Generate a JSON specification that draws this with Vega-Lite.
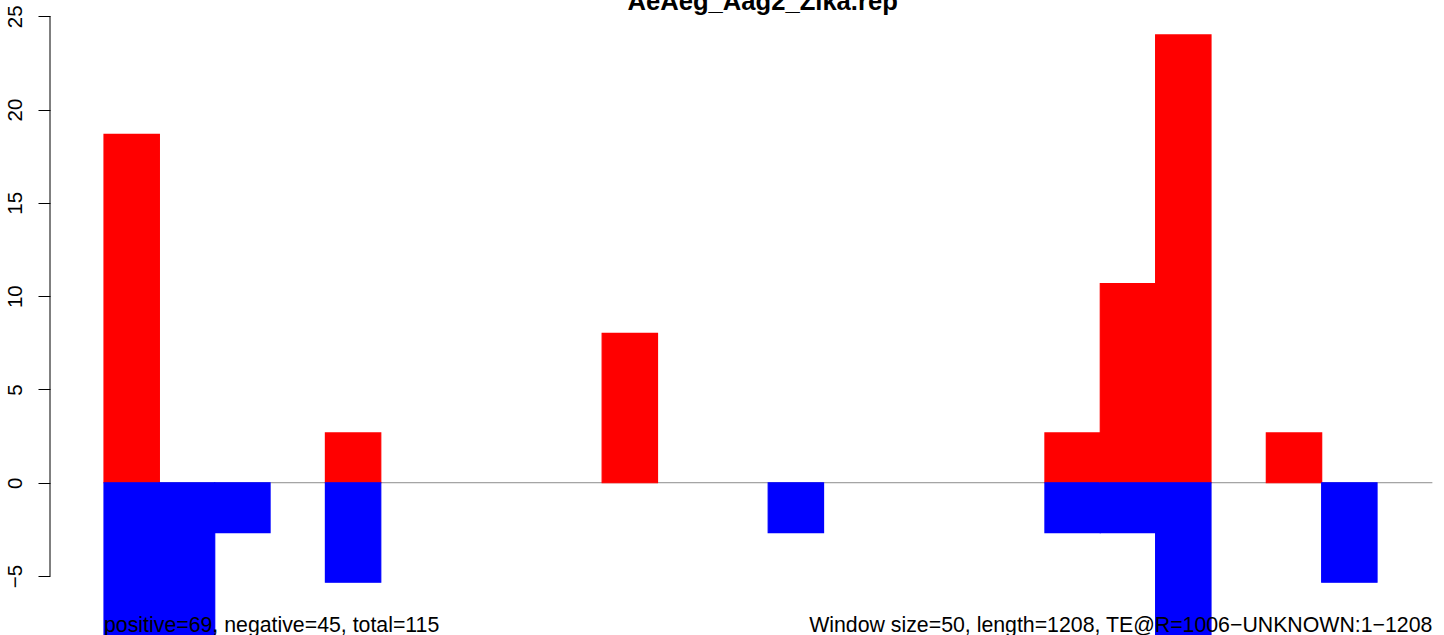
{
  "$schema": "https://vega.github.io/schema/vega-lite/v6.json",
  "width": 1394,
  "height": 635,
  "autosize": {"type": "none"},
  "padding": {"left": 50, "top": 0, "right": 0, "bottom": 0},
  "background": "white",
  "config": {"view": {"stroke": null}, "font": "Liberation Sans"},
  "datasets": {
    "bars": [
      {"start": 0, "end": 50, "count": 18.67, "strand": "positive"},
      {"start": 0, "end": 50, "count": -10.67, "strand": "negative"},
      {"start": 50, "end": 100, "count": -10.67, "strand": "negative"},
      {"start": 100, "end": 150, "count": -2.67, "strand": "negative"},
      {"start": 200, "end": 250, "count": 2.67, "strand": "positive"},
      {"start": 200, "end": 250, "count": -5.33, "strand": "negative"},
      {"start": 450, "end": 500, "count": 8.0, "strand": "positive"},
      {"start": 600, "end": 650, "count": -2.67, "strand": "negative"},
      {"start": 850, "end": 900, "count": 2.67, "strand": "positive"},
      {"start": 850, "end": 900, "count": -2.67, "strand": "negative"},
      {"start": 900, "end": 950, "count": 10.67, "strand": "positive"},
      {"start": 900, "end": 950, "count": -2.67, "strand": "negative"},
      {"start": 950, "end": 1000, "count": 24.0, "strand": "positive"},
      {"start": 950, "end": 1000, "count": -10.67, "strand": "negative"},
      {"start": 1050, "end": 1100, "count": 2.67, "strand": "positive"},
      {"start": 1100, "end": 1150, "count": -5.33, "strand": "negative"}
    ]
  },
  "encoding": {
    "x": {"type": "quantitative", "scale": {"domain": [-48.8, 1210.5], "nice": false, "zero": false}, "axis": null},
    "y": {
      "type": "quantitative",
      "scale": {"domain": [-8.16, 25.87], "nice": false, "zero": false},
      "axis": {
        "values": [-5, 0, 5, 10, 15, 20, 25],
        "domain": false,
        "grid": false,
        "title": null,
        "tickSize": 12,
        "tickColor": "#000000",
        "tickWidth": 1,
        "labelAngle": -90,
        "labelFontSize": 20.5,
        "labelColor": "#000000",
        "labelFont": "Liberation Sans",
        "labelPadding": 13
      }
    }
  },
  "layer": [
    {
      "data": {"values": [{"from": 0, "to": 1200, "level": 0}]},
      "mark": {"type": "rule", "color": "#8c8c8c", "strokeWidth": 1},
      "encoding": {
        "x": {"field": "from", "type": "quantitative"},
        "x2": {"field": "to"},
        "y": {"field": "level", "type": "quantitative"}
      }
    },
    {
      "data": {"name": "bars"},
      "mark": {"type": "bar", "clip": true, "strokeWidth": 1.2},
      "encoding": {
        "x": {"field": "start", "type": "quantitative"},
        "x2": {"field": "end"},
        "y": {"field": "count", "type": "quantitative"},
        "y2": {"datum": 0},
        "color": {"field": "strand", "type": "nominal", "scale": {"domain": ["positive", "negative"], "range": ["#ff0000", "#0000ff"]}, "legend": null},
        "stroke": {"field": "strand", "type": "nominal", "scale": {"domain": ["positive", "negative"], "range": ["#ff0000", "#0000ff"]}, "legend": null}
      }
    },
    {
      "data": {"values": [{"lo": -5, "hi": 25, "edge": -48.8}]},
      "mark": {"type": "rule", "color": "#000000", "strokeWidth": 1},
      "encoding": {
        "x": {"field": "edge", "type": "quantitative"},
        "y": {"field": "lo", "type": "quantitative"},
        "y2": {"field": "hi"}
      }
    },
    {
      "data": {"values": [{"label": "positive=69, negative=45, total=115", "pos": 0, "level": -8.0}]},
      "mark": {"type": "text", "align": "left", "baseline": "alphabetic", "fontSize": 21.3, "font": "Liberation Sans", "color": "#000000"},
      "encoding": {
        "x": {"field": "pos", "type": "quantitative"},
        "y": {"field": "level", "type": "quantitative"},
        "text": {"field": "label"}
      }
    },
    {
      "data": {"values": [{"label": "Window size=50, length=1208, TE@R=1006−UNKNOWN:1−1208", "pos": 1200, "level": -8.0}]},
      "mark": {"type": "text", "align": "right", "baseline": "alphabetic", "fontSize": 21.3, "font": "Liberation Sans", "color": "#000000"},
      "encoding": {
        "x": {"field": "pos", "type": "quantitative"},
        "y": {"field": "level", "type": "quantitative"},
        "text": {"field": "label"}
      }
    },
    {
      "data": {"values": [{"label": "AeAeg_Aag2_Zika.rep", "pos": 595, "level": 25.33}]},
      "mark": {"type": "text", "align": "center", "baseline": "alphabetic", "fontSize": 25.6, "fontWeight": "bold", "font": "Liberation Sans", "color": "#000000"},
      "encoding": {
        "x": {"field": "pos", "type": "quantitative"},
        "y": {"field": "level", "type": "quantitative"},
        "text": {"field": "label"}
      }
    }
  ]
}
